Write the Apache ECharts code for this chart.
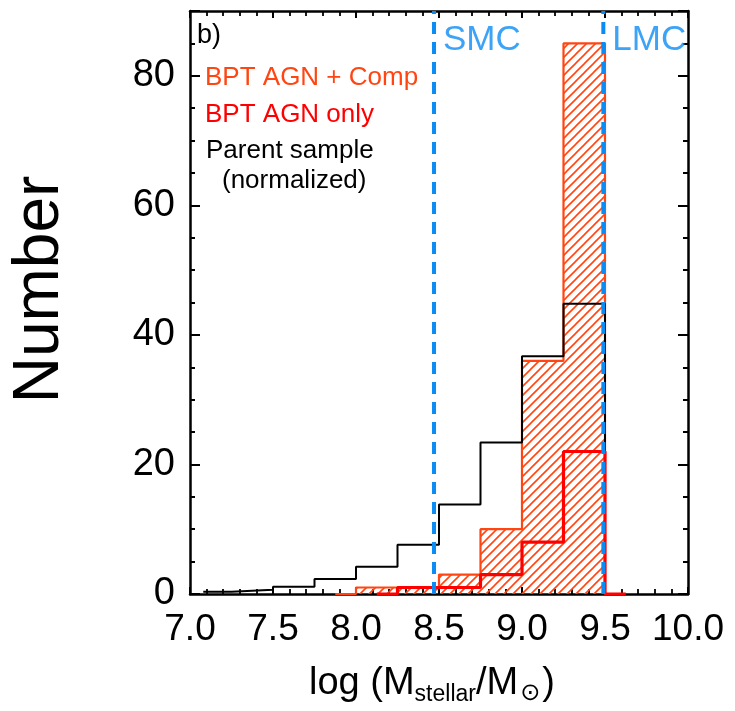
<!DOCTYPE html>
<html>
<head>
<meta charset="utf-8">
<script src="https://cdn.jsdelivr.net/npm/echarts@6/dist/echarts.min.js"></script>
<style>html,body{margin:0;padding:0;background:#fff}#c{width:735px;height:711px}</style>
</head>
<body>
<div id="c"></div>
<script>
// ---- data ----
// bin left edges (last entry closes the final bin) and bin values
const parentEdges = [7.08, 7.25, 7.5, 7.75, 8.0, 8.25, 8.5, 8.75, 9.0, 9.25, 9.5];
const parentValues = [0.35, 0.65, 1.1, 2.3, 4.2, 7.6, 13.8, 23.4, 36.7, 44.8, 0];
const compEdges = [7.875, 8.0, 8.25, 8.5, 8.75, 9.0, 9.25, 9.5];
const compValues = [0, 1, 1, 3, 10, 36, 85, 0];
const agnEdges = [8.125, 8.25, 8.5, 8.75, 9.0, 9.25, 9.5, 9.625];
const agnValues = [0, 1, 1, 3, 8, 22, 0, 0];
const smcX = 8.47, lmcX = 9.49;
const refLabels = ['SMC', 'LMC'];
const legendTexts = ['BPT AGN + Comp', 'BPT AGN only', 'Parent sample', '(normalized)'];
const xTicks = [7.0, 7.5, 8.0, 8.5, 9.0, 9.5, 10.0];
const yTicks = [0, 20, 40, 60, 80];

const FONT = "'Liberation Sans', Arial, Helvetica, sans-serif";
const ORANGE = '#ff4612';
const RED = '#ff0000';
const BLUE = '#0b8cf5';

const pairs = (xs, ys) => xs.map((x, i) => [x, ys[i]]);

// hatch pattern
const tile = document.createElement('canvas');
tile.width = 9; tile.height = 9;
const g = tile.getContext('2d');
g.strokeStyle = ORANGE; g.lineWidth = 1.6;
g.beginPath();
g.moveTo(-1, 10); g.lineTo(10, -1);
g.moveTo(-1, 1); g.lineTo(1, -1);
g.moveTo(8, 10); g.lineTo(10, 8);
g.stroke();

const chart = echarts.init(document.getElementById('c'), null, {renderer: 'canvas'});

function xAxisCfg(pos, showLabel) {
  return {
    type: 'value', position: pos, min: 7, max: 10, interval: 0.5,
    axisLine: {show: true, onZero: false, lineStyle: {color: '#000', width: 2.5}},
    axisTick: {show: true, inside: true, length: 7, lineStyle: {color: '#000', width: 2}},
    minorTick: {show: true, splitNumber: 5, length: 5, lineStyle: {color: '#000', width: 1.8}},
    splitLine: {show: false},
    axisLabel: {show: showLabel, fontSize: 37, color: '#000', fontFamily: FONT, margin: 17,
      formatter: v => xTicks.find(t => Math.abs(t - v) < 1e-6) !== undefined ? v.toFixed(1) : ''},
    name: showLabel ? 'log (M{sub|stellar}/M{sun|⊙})' : '',
    nameLocation: 'middle', nameGap: 68,
    nameTextStyle: {
      fontSize: 38, color: '#000', fontFamily: FONT, lineHeight: 44, padding: [0, 14, 0, 0],
      rich: {
        sub: {fontSize: 23, fontFamily: FONT, color: '#000', lineHeight: 22, verticalAlign: 'bottom', padding: [12, 0, 0, 0]},
        sun: {fontSize: 24, fontFamily: 'DejaVu Sans', color: '#000', lineHeight: 22, verticalAlign: 'bottom', padding: [10, 2, 0, 2]}
      }
    }
  };
}
function yAxisCfg(pos, showLabel) {
  return {
    type: 'value', position: pos, min: 0, max: 90, interval: 20,
    axisLine: {show: true, onZero: false, lineStyle: {color: '#000', width: 2.5}},
    axisTick: {show: true, inside: true, length: 10, lineStyle: {color: '#000', width: 2}},
    minorTick: {show: true, splitNumber: 4, length: 5, lineStyle: {color: '#000', width: 2}},
    splitLine: {show: false},
    axisLabel: {show: showLabel, showMaxLabel: false, fontSize: 38, color: '#000', fontFamily: FONT, margin: 15,
      formatter: v => yTicks.indexOf(v) >= 0 ? String(v) : ''},
    name: showLabel ? 'Number' : '',
    nameLocation: 'middle', nameGap: 118, nameRotate: 90,
    nameTextStyle: {fontSize: 64, color: '#000', fontFamily: FONT, padding: [0, 0, 0, 26]}
  };
}

const option = {
  backgroundColor: '#fff',
  animation: false,
  grid: {left: 181, right: 47, top: 11, bottom: 115, containLabel: false},
  xAxis: [xAxisCfg('bottom', true), xAxisCfg('top', false)],
  yAxis: [yAxisCfg('left', true), yAxisCfg('right', false)],
  series: [
    {
      name: legendTexts[0], type: 'line', step: 'end', symbol: 'none',
      data: pairs(compEdges, compValues),
      lineStyle: {color: ORANGE, width: 2.2},
      areaStyle: {color: {image: tile, repeat: 'repeat'}, opacity: 1, origin: 'start'},
      z: 2
    },
    {
      name: legendTexts[2], type: 'line', step: 'end', symbol: 'none',
      data: pairs(parentEdges, parentValues),
      lineStyle: {color: '#000', width: 2}, z: 3
    },
    {
      name: legendTexts[1], type: 'line', step: 'end', symbol: 'none',
      data: pairs(agnEdges, agnValues),
      lineStyle: {color: RED, width: 3.2}, z: 4
    },
    {
      type: 'line', symbol: 'none', data: [[smcX, 0], [smcX, 90]],
      lineStyle: {color: BLUE, width: 4, type: [12, 8]}, z: 5
    },
    {
      type: 'line', symbol: 'none', data: [[lmcX, 0], [lmcX, 90]],
      lineStyle: {color: BLUE, width: 4, type: [12, 8]}, z: 5
    },
    {
      type: 'scatter', symbolSize: 0, z: 6,
      data: [[smcX, 85.5, refLabels[0]], [lmcX, 85.5, refLabels[1]]],
      label: {show: true, position: 'right', distance: 9, formatter: p => p.data[2],
        fontSize: 35, color: BLUE, fontFamily: FONT}
    }
  ],
  graphic: [
    {type: 'text', left: 197, top: 22, style: {text: 'b)', font: '27px ' + FONT, fill: '#000'}},
    {type: 'text', left: 205, top: 65, style: {text: legendTexts[0], font: '26px ' + FONT, fill: ORANGE}},
    {type: 'text', left: 205, top: 102, style: {text: legendTexts[1], font: '26px ' + FONT, fill: RED}},
    {type: 'text', left: 206, top: 138, style: {text: legendTexts[2], font: '26px ' + FONT, fill: '#000'}},
    {type: 'text', left: 222, top: 168, style: {text: legendTexts[3], font: '26px ' + FONT, fill: '#000'}}
  ]
};
chart.setOption(option);
</script>
</body>
</html>
